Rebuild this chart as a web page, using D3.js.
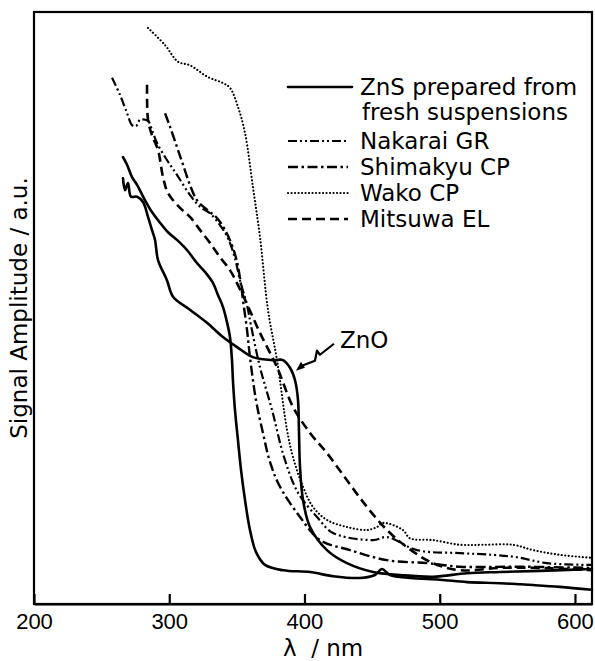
<!DOCTYPE html>
<html lang="en">
<head>
<meta charset="utf-8">
<title>Signal amplitude</title>
<style>
  body { margin: 0; background: #fff; }
  svg { display: block; }
  .frame { fill: none; stroke: #000; stroke-width: 2.2px; }
  .curve { fill: none; stroke: #000; stroke-linejoin: round; }
  text { font-family: "DejaVu Sans", sans-serif; font-size: 23px; fill: #000; }
  .axis text { font-family: "Liberation Sans", sans-serif; font-size: 22px; }
  .axis path, .axis line { stroke: #000; stroke-width: 2.2px; }
</style>
</head>
<body>
<div id="chart"></div>
<script src="https://d3js.org/d3.v7.min.js"></script>
<script>
// wavelength (nm), signal amplitude (a.u., 0-100)
var znsFresh = [
  [265.8,75.5],[268.8,74.2],[272.5,72.1],[276.2,70.8],[282.1,68.2],[287.2,66.2],[293.2,64.4],[299.1,62.8],
  [305.7,61.5],[313.1,59.8],[320.5,57.6],[326.4,56.1],[332.4,54.2],[336.0,52.2],[339.7,50.2],[342.7,47.6],
  [344.9,45.1],[346.4,41.2],[347.1,37.8],[348.6,32.8],[350.8,27.7],[353.1,22.6],[356.0,17.6],[359.7,12.5],
  [364.1,8.8],[370.8,6.6],[384.1,5.7],[404.1,5.4],[421.1,4.7],[441.0,4.4],[452.1,4.9],[457.3,5.9],
  [463.2,4.9],[478.0,4.4],[500.2,4.1],[520.2,3.7],[544.6,3.5],[569.0,3.2],[588.9,2.9],[612.6,2.4]
];
var zno = [
  [265.8,71.9],[267.3,69.9],[269.5,71.1],[271.7,68.8],[276.2,68.8],[280.6,67.9],[284.3,65.4],[287.2,63.2],
  [289.5,61.5],[291.7,58.1],[298.3,54.7],[302.8,51.9],[315.3,49.7],[327.9,47.5],[339.7,45.1],[350.1,43.4],
  [361.9,41.7],[376.7,41.2],[384.1,41.2],[389.3,39.9],[393.0,37.8],[395.2,34.5],[395.9,29.4],[396.7,23.1],
  [398.9,17.6],[404.1,13.0],[416.6,9.1],[431.4,6.9],[450.7,5.4],[470.6,4.9],[495.0,4.6],[520.2,5.2],
  [544.6,5.4],[574.1,5.6],[612.6,5.9]
];
var nakaraiGR = [
  [257.7,88.9],[263.6,86.0],[268.8,82.9],[272.5,80.9],[275.4,80.7],[278.4,81.8],[284.3,81.6],[287.2,80.1],
  [290.9,77.9],[298.3,75.0],[305.7,72.5],[315.3,69.1],[322.7,67.1],[330.1,66.0],[337.5,64.0],[343.4,61.8],
  [348.6,58.4],[352.3,54.7],[357.5,50.5],[360.4,47.1],[367.1,40.0],[376.0,32.8],[384.9,24.8],[395.2,18.8],
  [409.3,14.7],[421.1,12.0],[450.7,10.8],[461.0,11.3],[483.2,9.1],[515.0,8.6],[539.4,8.3],[557.1,7.9],
  [579.3,6.9],[612.6,6.6]
];
var shimakyuCP = [
  [296.9,82.9],[300.6,80.6],[305.7,77.2],[310.2,74.2],[315.3,70.8],[320.5,68.2],[327.9,66.6],[335.3,65.2],
  [341.2,63.2],[346.4,60.6],[350.1,57.8],[353.1,53.9],[354.5,51.4],[357.5,46.3],[359.7,41.7],[364.1,34.5],
  [369.3,28.9],[374.5,24.0],[381.9,19.8],[396.7,14.7],[411.5,10.8],[433.7,9.1],[461.0,7.4],[490.6,6.9],
  [515.0,6.3],[559.3,6.3],[612.6,6.1]
];
var wakoCP = [
  [284.3,97.3],[296.9,94.4],[306.5,91.6],[315.3,91.0],[328.7,89.0],[339.7,88.0],[344.9,87.2],[350.8,84.0],
  [356.0,79.6],[361.9,70.4],[367.1,62.0],[373.0,49.7],[379.7,41.2],[387.1,29.4],[391.5,24.8],[398.9,19.8],
  [406.3,16.4],[416.6,14.2],[431.4,13.0],[446.2,12.5],[453.6,13.0],[458.1,13.7],[472.8,12.5],[478.0,11.1],
  [495.0,10.8],[515.0,10.0],[532.0,10.0],[554.2,10.0],[569.0,9.1],[588.9,8.3],[612.6,7.8]
];
var mitsuwaEL = [
  [283.6,87.7],[284.3,81.8],[287.2,79.2],[291.7,76.7],[295.4,72.1],[299.1,69.4],[308.0,66.9],[315.3,65.4],
  [322.7,63.2],[330.1,61.0],[337.5,58.6],[344.9,56.4],[350.1,54.2],[356.0,51.4],[367.1,45.8],[379.7,40.0],
  [391.5,33.3],[404.1,28.9],[416.6,25.5],[431.4,20.9],[446.2,16.4],[461.0,12.5],[475.8,9.6],[495.0,6.9],
  [515.0,5.7],[544.6,6.1],[574.1,6.1],[612.6,5.7]
];

var xTicks = [200, 300, 400, 500, 600];
var legendLabels = ["ZnS prepared from", "Nakarai GR", "Shimakyu CP", "Wako CP", "Mitsuwa EL"];
var legendSecondLine = "fresh suspensions";
var znoLabel = "ZnO";
var znoTip = [393.7, 39.4];

var width = 595,
    height = 661;

var x = d3.scaleLinear().domain([200, 612.6]).range([34, 592]);
var y = d3.scaleLinear().domain([0, 100]).range([604, 12]);

var styles = {
  solid:    { dash: null, w: 2.6, cap: "round" },
  nakarai:  { dash: "9,3,2,3,2,3", w: 2.2, cap: "butt" },
  shimakyu: { dash: "10,3.5,2.5,3.5", w: 2.4, cap: "butt" },
  wako:     { dash: "0.1,3.4", w: 2.1, cap: "round" },
  mitsuwa:  { dash: "9,5", w: 2.6, cap: "butt" }
};

var series = [
  { values: znsFresh, style: styles.solid },
  { values: zno, style: styles.solid },
  { values: nakaraiGR, style: styles.nakarai },
  { values: shimakyuCP, style: styles.shimakyu },
  { values: wakoCP, style: styles.wako },
  { values: mitsuwaEL, style: styles.mitsuwa }
];
var legendStyles = [styles.solid, styles.nakarai, styles.shimakyu, styles.wako, styles.mitsuwa];

var svg = d3.select("#chart")
    .append("svg")
    .attr("width", width)
    .attr("height", height);

svg.append("rect")
    .attr("class", "frame")
    .attr("x", x.range()[0])
    .attr("y", y.range()[1])
    .attr("width", x.range()[1] - x.range()[0])
    .attr("height", y.range()[0] - y.range()[1]);

svg.append("g")
    .attr("class", "axis")
    .attr("transform", "translate(0," + y(0) + ")")
    .call(d3.axisBottom(x).tickValues(xTicks).tickSizeInner(-10).tickSizeOuter(0).tickPadding(9).tickFormat(d3.format("d")))
    .call(function(g) { g.selectAll("text").attr("fill", "#000"); });

var line = d3.line()
    .x(function(d) { return x(d[0]); })
    .y(function(d) { return y(d[1]); })
    .curve(d3.curveCatmullRom.alpha(0.5));

svg.append("g")
  .selectAll("path")
    .data(series)
  .enter().append("path")
    .attr("class", "curve")
    .attr("d", function(d) { return line(d.values); })
    .attr("stroke-width", function(d) { return d.style.w; })
    .attr("stroke-dasharray", function(d) { return d.style.dash; })
    .attr("stroke-linecap", function(d) { return d.style.cap; });

// legend
var legendY = [95, 149, 175, 201, 227];
var legend = svg.append("g")
  .selectAll("g")
    .data(legendLabels)
  .enter().append("g")
    .attr("transform", function(d, i) { return "translate(0," + legendY[i] + ")"; });

legend.append("line")
    .attr("class", "curve")
    .attr("x1", 288)
    .attr("x2", function(d, i) { return i == 0 ? 352 : 348; })
    .attr("y1", -8)
    .attr("y2", -8)
    .attr("stroke-width", function(d, i) { return legendStyles[i].w; })
    .attr("stroke-dasharray", function(d, i) { return legendStyles[i].dash; })
    .attr("stroke-linecap", function(d, i) { return legendStyles[i].cap; });

legend.append("text")
    .attr("x", 360)
    .text(function(d) { return d; });

svg.append("text")
    .attr("x", 362)
    .attr("y", 120)
    .text(legendSecondLine);

// ZnO annotation
var tx = x(znoTip[0]), ty = y(znoTip[1]);
svg.append("text")
    .attr("x", tx + 44)
    .attr("y", ty - 23)
    .text(znoLabel);

svg.append("path")
    .attr("class", "curve")
    .attr("stroke-width", 2.2)
    .attr("d", d3.line()([[tx + 38, ty - 27], [tx + 24, ty - 16], [tx + 21, ty - 20], [tx + 19, ty - 10], [tx + 6, ty - 5]]));

svg.append("path")
    .attr("d", d3.line()([[tx, ty], [tx + 9, ty - 3], [tx + 5, ty - 9]]) + "Z")
    .attr("fill", "#000");

// axis titles
svg.append("text")
    .attr("transform", "translate(27,308) rotate(-90)")
    .attr("text-anchor", "middle")
    .text("Signal Amplitude / a.u.");

svg.append("text")
    .attr("x", 283)
    .attr("y", 656)
    .style("white-space", "pre")
    .text("\u03bb  / nm");
</script>
</body>
</html>
